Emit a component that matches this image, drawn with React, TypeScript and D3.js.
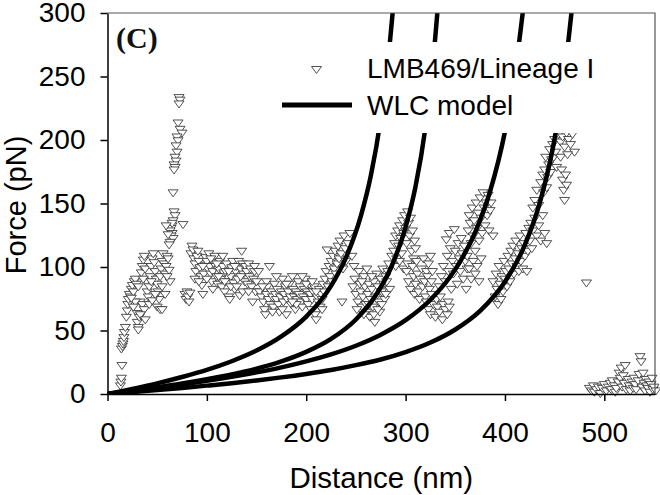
import React, {useEffect, useRef} from "react";
import * as d3 from "d3";

type Pt = [number, number];

const xTicks = [0, 100, 200, 300, 400, 500];
const yTicks = [0, 50, 100, 150, 200, 250, 300];

// WLC model curves (distance nm, force pN)
const wlc1: Pt[] = [[0, 0], [25, 4.0], [50, 8.4], [75, 13.4], [100, 19.0], [125, 25.8], [150, 34.2], [175, 45.3],
    [200, 60.9], [225, 85.2], [240, 107.4], [255, 140.2], [265, 171.8], [275, 216.5], [282, 259.9], [288, 309]];
const wlc2: Pt[] = [[0, 0], [25, 2.5], [50, 5.2], [75, 8.2], [100, 11.6], [125, 15.4], [150, 20.0], [175, 25.7],
    [200, 33.2], [225, 43.4], [250, 58.7], [270, 77.7], [285, 99.0], [300, 131.4], [310, 163.4], [320, 209.9],
    [327, 256.3], [333, 310]];
const wlc3: Pt[] = [[0, 0], [25, 2.3], [50, 4.8], [75, 7.5], [100, 10.4], [125, 13.5], [150, 17.0], [175, 21.0],
    [200, 25.7], [225, 31.2], [250, 38.0], [275, 46.7], [300, 58.1], [325, 74.2], [350, 98.1], [370, 127.3],
    [385, 159.5], [400, 206.7], [410, 251.9], [419, 307.5]];
const wlc4: Pt[] = [[0, 0], [25, 1.5], [50, 3.1], [75, 4.8], [100, 6.6], [125, 8.5], [150, 10.7], [175, 13.1],
    [200, 15.8], [225, 18.9], [250, 22.7], [275, 27.2], [300, 33.0], [325, 40.5], [350, 50.8], [375, 65.5],
    [400, 88.4], [420, 117.4], [435, 150.5], [448, 192.9], [458, 240.0], [468, 308]];

// LMB469/Lineage I force-distance points
const onsetPts: Pt[] = [[13, 6], [13.5, 9], [14, 12], [14.5, 22], [14, 35], [15, 37], [15.5, 39], [16, 41], [16.5, 44],
    [17, 48], [18, 52], [19, 60], [20, 65], [20.5, 70], [21, 74], [22, 78], [23, 76], [24, 82], [25, 85], [26, 80],
    [27, 88], [28, 90], [29, 86], [30, 63], [30, 56], [31, 52], [32, 60], [33, 72], [34, 95], [35, 100], [36, 105],
    [37, 108], [38, 98], [39, 88], [40, 80], [41, 76], [42, 84], [43, 92], [44, 100], [45, 106], [46, 110], [47, 103],
    [48, 96], [49, 90], [50, 86], [51, 80], [52, 74], [53, 92], [54, 98], [55, 104], [56, 110], [57, 102], [58, 94],
    [59, 100], [60, 108], [61, 106], [62, 97], [63, 88], [35, 70], [37, 66], [42, 70], [45, 73], [50, 68],
    [28, 72], [26, 68], [24, 75], [31, 84], [36, 90], [44, 88], [48, 78], [55, 84], [58, 78], [60, 92], [33, 62],
    [38, 58], [53, 66], [31, 50], [55, 66]];
const spikePts: Pt[] = [[72, 233], [73, 231], [72, 228], [71, 213], [73, 208], [75, 205], [70, 202], [71, 199],
    [69, 195], [70, 190], [68, 186], [69, 183], [67, 180], [68, 178], [67, 176], [66, 158], [67, 143], [68, 140],
    [66, 136], [65, 132], [64, 130], [63, 128], [65, 126], [64, 124], [66, 122], [63, 119], [62, 117], [65, 134],
    [76, 133], [59, 132], [61, 125]];
const plateau1Pts: Pt[] = [[78, 78], [79, 74], [80, 80], [81, 76], [82, 72], [83, 79], [84, 110], [85, 116],
    [86, 113], [87, 106], [88, 102], [89, 96], [90, 108], [91, 112], [92, 104], [93, 99], [94, 92], [95, 85],
    [96, 78], [97, 94], [98, 101], [99, 107], [100, 104], [101, 98], [102, 110], [103, 100], [104, 94], [105, 88],
    [106, 96], [107, 103], [108, 108], [109, 100], [110, 92], [111, 86], [112, 98], [113, 104], [114, 90],
    [115, 84], [116, 100], [117, 95], [118, 80], [119, 96], [120, 102], [121, 88], [122, 76], [123, 74], [124, 92],
    [125, 99], [126, 104], [127, 87], [128, 82], [129, 96], [130, 100], [131, 90], [132, 104], [133, 77], [134, 98],
    [135, 112], [136, 102], [137, 94], [138, 88], [139, 100], [140, 96], [141, 86], [142, 102], [143, 92], [144, 98],
    [145, 84], [146, 72], [147, 90], [148, 96], [149, 80], [150, 88], [88, 90], [92, 88], [96, 100], [104, 106],
    [110, 102], [116, 108], [122, 96], [128, 100], [134, 92], [100, 90], [106, 82], [112, 92], [118, 88], [124, 84],
    [130, 84], [136, 80], [142, 80], [148, 100], [152, 96]];
const plateau2Pts: Pt[] = [[153, 80], [155, 76], [157, 72], [158, 66], [159, 62], [160, 78], [161, 84], [162, 74],
    [163, 100], [164, 70], [165, 80], [166, 76], [167, 68], [168, 86], [169, 78], [170, 74], [171, 82], [172, 70],
    [173, 64], [174, 76], [175, 80], [176, 90], [177, 72], [178, 78], [179, 84], [180, 62], [181, 74], [182, 80],
    [183, 86], [184, 76], [185, 70], [186, 92], [187, 82], [188, 76], [189, 66], [190, 80], [191, 74], [192, 88],
    [193, 78], [194, 84], [195, 72], [196, 68], [197, 76], [198, 82], [199, 90], [200, 74], [201, 80], [202, 70],
    [203, 86], [204, 78], [205, 66], [206, 74], [207, 80], [208, 84], [209, 62], [210, 58], [211, 76], [212, 72],
    [213, 82], [214, 68], [215, 78], [216, 74], [217, 86], [218, 80], [219, 90], [220, 96], [221, 113], [222, 84],
    [223, 100], [224, 92], [225, 104], [226, 88], [227, 108], [228, 98], [229, 112], [230, 94], [231, 102],
    [232, 116], [233, 106], [234, 120], [235, 110], [236, 72], [237, 98], [238, 124], [239, 114], [240, 104],
    [242, 118], [244, 126], [246, 108], [248, 100], [160, 88], [170, 92], [180, 86], [190, 70], [200, 86],
    [210, 80], [156, 84], [166, 64], [176, 66], [186, 72], [196, 92], [206, 88], [216, 66]];
const peak1Pts: Pt[] = [[247, 84], [249, 90], [250, 78], [252, 72], [253, 96], [254, 86], [255, 80], [256, 68],
    [257, 76], [258, 92], [259, 84], [260, 70], [261, 64], [262, 78], [263, 86], [264, 60], [265, 74], [266, 82],
    [267, 68], [268, 88], [269, 56], [270, 76], [271, 94], [272, 84], [273, 72], [274, 64], [275, 90], [276, 80],
    [277, 98], [278, 86], [279, 74], [280, 92], [281, 88], [282, 96], [283, 102], [284, 82], [258, 62], [263, 70],
    [268, 62], [272, 66], [276, 70], [280, 78], [251, 66], [256, 88], [261, 98], [266, 92]];
const peak2Pts: Pt[] = [[286, 108], [288, 112], [289, 118], [290, 124], [291, 106], [292, 128], [293, 116],
    [294, 132], [295, 122], [296, 110], [297, 136], [298, 126], [299, 140], [300, 130], [301, 118], [302, 143],
    [303, 134], [304, 124], [305, 138], [306, 112], [307, 128], [308, 106], [309, 120], [310, 114], [290, 100],
    [294, 104], [298, 98], [302, 102], [301, 96], [303, 88], [305, 82], [307, 100], [308, 92], [309, 78], [310, 86],
    [311, 104], [312, 94], [313, 80], [314, 74], [315, 90], [316, 98], [317, 84], [318, 106], [319, 88], [320, 76],
    [321, 96], [322, 92], [323, 102], [324, 82], [325, 108], [326, 88], [327, 96]];
const peak3Pts: Pt[] = [[321, 72], [323, 66], [325, 62], [326, 78], [328, 70], [330, 60], [331, 74], [332, 68],
    [334, 64], [335, 76], [337, 58], [338, 70], [340, 66], [342, 62], [343, 72], [344, 68], [334, 84], [336, 92],
    [338, 100], [340, 88], [341, 121], [342, 108], [343, 96], [344, 126], [345, 114], [346, 82], [347, 104],
    [348, 94], [349, 129], [350, 112], [351, 100], [352, 86], [353, 118], [354, 106], [355, 96], [356, 122],
    [357, 110], [358, 90], [359, 116], [360, 104], [361, 82], [362, 98], [363, 128], [364, 140], [365, 134],
    [366, 118], [367, 146], [368, 124], [369, 136], [370, 112], [371, 150], [372, 130], [373, 142], [374, 120],
    [375, 154], [376, 138], [377, 126], [378, 158], [379, 146], [380, 132], [381, 150], [382, 140], [383, 156],
    [384, 128], [385, 144], [386, 150], [388, 124], [362, 108], [364, 98], [366, 90], [368, 104], [370, 94],
    [372, 100], [374, 88], [376, 106]];
const peak4Pts: Pt[] = [[388, 88], [390, 76], [391, 94], [392, 82], [393, 70], [394, 100], [395, 86], [396, 74],
    [397, 92], [398, 80], [399, 104], [400, 90], [401, 96], [402, 84], [403, 108], [404, 98], [405, 88], [406, 112],
    [407, 102], [408, 116], [409, 94], [410, 106], [411, 120], [412, 100], [413, 110], [414, 96], [415, 124],
    [416, 104], [417, 114], [418, 98], [419, 118], [420, 108], [421, 126], [422, 96], [423, 112], [424, 130],
    [425, 120], [426, 134], [427, 114], [428, 128], [430, 138], [432, 124], [434, 132], [436, 120], [438, 140],
    [440, 126], [442, 118], [428, 146], [430, 152], [432, 160], [434, 148], [436, 166], [438, 172], [439, 158],
    [440, 176], [441, 186], [442, 162], [443, 170], [444, 180], [445, 192], [446, 174], [447, 184], [448, 196],
    [449, 186], [450, 200], [451, 190], [452, 178], [454, 204], [456, 198], [458, 202], [460, 194], [462, 205],
    [464, 200], [466, 196], [468, 204], [470, 190], [457, 176], [458, 168], [459, 160], [460, 152], [461, 172],
    [462, 164], [456, 186], [463, 188]];
const detachedPts: Pt[] = [[482, 87], [485, 4], [487, 2], [489, 6], [490, 1], [492, 3], [494, 5], [496, 0],
    [498, 4], [500, 7], [502, 2], [504, 5], [506, 8], [507, 3], [508, 10], [510, 6], [511, 1], [512, 4], [514, 9],
    [515, 16], [516, 12], [517, 20], [518, 5], [519, 14], [520, 8], [521, 22], [522, 3], [524, 11], [525, 6],
    [526, 2], [528, 9], [529, 4], [530, 12], [531, 7], [532, 3], [534, 10], [535, 15], [536, 29], [537, 25],
    [538, 5], [539, 16], [540, 8], [541, 2], [542, 11], [543, 6], [544, 4], [545, 9], [546, 1], [547, 7],
    [548, 12], [549, 3], [550, 5], [552, 2]];

const scatterPts: Pt[] = [...onsetPts, ...spikePts, ...plateau1Pts, ...plateau2Pts, ...peak1Pts, ...peak2Pts,
    ...peak3Pts, ...peak4Pts, ...detachedPts];
const curves = [wlc1, wlc2, wlc3, wlc4];

const width = 660;
const height = 495;
const plot = {left: 107.5, right: 655, top: 13, bottom: 394};
const font = "'Liberation Sans', Arial, sans-serif";
const tri = "M-5,-3.5L5,-3.5L0,3.5Z";

export default function App() {
    const ref = useRef<SVGSVGElement>(null);

    useEffect(() => {
        draw();
    }, []);

    function draw() {
        const svg = d3.select(ref.current);
        svg.selectAll("*").remove();

        const x = d3.scaleLinear().domain([0, 551]).range([plot.left, plot.right]);
        const y = d3.scaleLinear().domain([0, 300]).range([plot.bottom, plot.top]);

        svg.append("defs").append("clipPath").attr("id", "plotclip")
            .append("rect")
            .attr("x", plot.left).attr("y", plot.top)
            .attr("width", plot.right - plot.left).attr("height", plot.bottom - plot.top);

        // points
        svg.append("g")
            .selectAll("path")
            .data(scatterPts)
            .join("path")
            .attr("d", tri)
            .attr("transform", d => `translate(${x(d[0])},${y(d[1])})`)
            .attr("fill", "white")
            .attr("stroke", "#333")
            .attr("stroke-width", 0.85);

        // WLC curves
        const line = d3.line<Pt>()
            .x(d => x(d[0]))
            .y(d => y(d[1]))
            .curve(d3.curveMonotoneX);
        svg.append("g")
            .attr("clip-path", "url(#plotclip)")
            .selectAll("path")
            .data(curves)
            .join("path")
            .attr("d", d => line(d))
            .attr("fill", "none")
            .attr("stroke", "black")
            .attr("stroke-width", 4.5);

        // legend
        const lg = svg.append("g");
        lg.append("rect").attr("x", 272).attr("y", 42).attr("width", 340).attr("height", 91).attr("fill", "white");
        lg.append("path").attr("d", tri).attr("transform", "translate(316.5,70)")
            .attr("fill", "white").attr("stroke", "#333").attr("stroke-width", 0.85);
        lg.append("line").attr("x1", 282).attr("x2", 352).attr("y1", 105).attr("y2", 105)
            .attr("stroke", "black").attr("stroke-width", 5);
        lg.append("text").attr("x", 367).attr("y", 78).text("LMB469/Lineage I")
            .attr("font-family", font).attr("font-size", 28).attr("fill", "black");
        lg.append("text").attr("x", 367).attr("y", 115).text("WLC model")
            .attr("font-family", font).attr("font-size", 28).attr("fill", "black");

        // frame
        svg.append("path")
            .attr("d", `M${plot.left},${plot.top}H${plot.right}V${plot.bottom}`)
            .attr("fill", "none").attr("stroke", "#555").attr("stroke-width", 1.2);

        // axes
        const xAxis = d3.axisBottom(x).tickValues(xTicks).tickSize(7).tickSizeOuter(0).tickPadding(21);
        const gx = svg.append("g").attr("transform", `translate(0,${plot.bottom})`).call(xAxis);
        gx.attr("font-size", 28).attr("font-family", font);
        gx.select(".domain").attr("stroke", "black").attr("stroke-width", 1.5);
        gx.selectAll(".tick line").attr("stroke", "black").attr("stroke-width", 1.5);
        gx.selectAll(".tick text").attr("fill", "black");

        const yAxis = d3.axisLeft(y).tickValues(yTicks).tickSize(7).tickSizeOuter(0).tickPadding(15);
        const gy = svg.append("g").attr("transform", `translate(${plot.left},0)`).call(yAxis);
        gy.attr("font-size", 28).attr("font-family", font);
        gy.select(".domain").attr("stroke", "black").attr("stroke-width", 1.5);
        gy.selectAll(".tick line").attr("stroke", "black").attr("stroke-width", 1.5);
        gy.selectAll(".tick text").attr("fill", "black");

        // titles
        svg.append("text")
            .attr("x", (plot.left + plot.right) / 2).attr("y", 488)
            .attr("text-anchor", "middle")
            .attr("font-family", font).attr("font-size", 29.5)
            .text("Distance (nm)");
        svg.append("text")
            .attr("transform", `translate(26,205) rotate(-90)`)
            .attr("text-anchor", "middle")
            .attr("font-family", font).attr("font-size", 29)
            .text("Force (pN)");

        svg.append("text")
            .attr("x", 116).attr("y", 48)
            .attr("font-family", "'Liberation Serif', 'Times New Roman', serif")
            .attr("font-weight", "bold").attr("font-size", 30)
            .attr("fill", "#111")
            .text("(C)");
    }

    return (
        <svg
            ref={ref}
            width={width}
            height={height}
            style={{position: "absolute", left: 0, top: 0, backgroundColor: "white"}}
        />
    );
}
